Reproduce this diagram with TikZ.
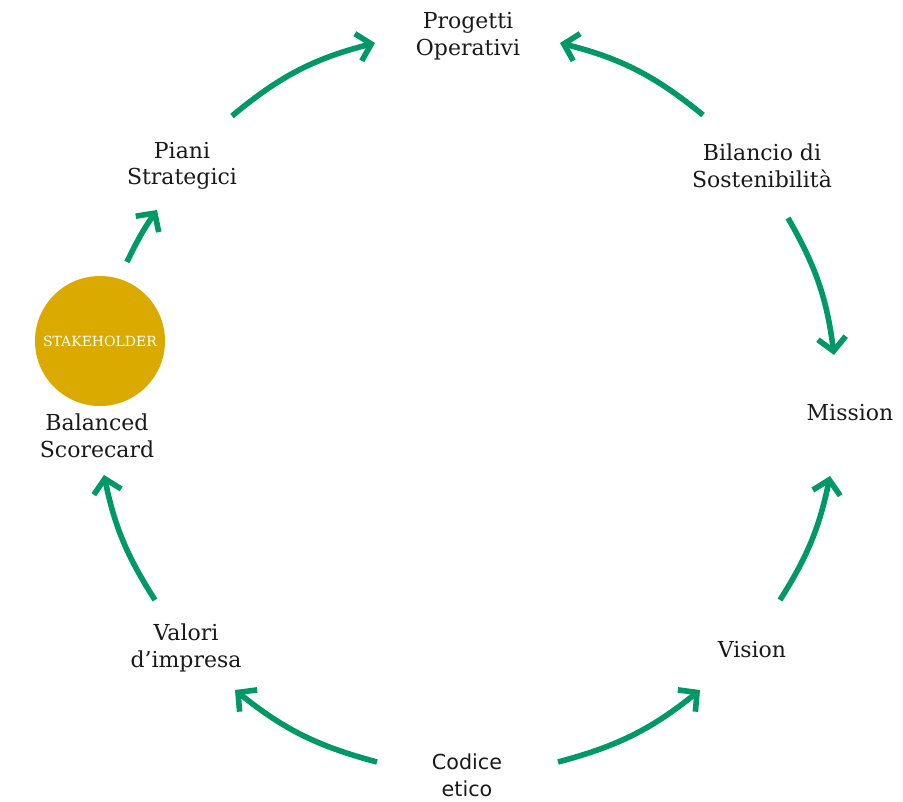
\documentclass[tikz,border=0pt]{standalone}
\usepackage{fontspec}
\setmainfont{DejaVu Serif}
\newfontfamily\sansf{DejaVu Sans}
\usetikzlibrary{arrows.meta}
\definecolor{arrowgreen}{RGB}{0,153,102}
\definecolor{gold}{RGB}{218,170,0}
\begin{document}
\begin{tikzpicture}[x=0.75pt,y=-0.75pt,
  lbl/.style={align=center, inner sep=0pt, font=\fontsize{16.5}{20}\selectfont, text=black!90},
  flow/.style={draw=arrowgreen, line width=4.2pt, -{Straight Barb[length=10pt,width=21pt]}},
  stakebox/.style={circle, fill=gold, minimum size=97.5pt, inner sep=0pt, text=white, font=\fontsize{10.5}{12}\selectfont}]
\useasboundingbox (0,0) rectangle (903,802);

\node[lbl] (prog) at (468,36) {Progetti\\Operativi};
\node[lbl] (bil) at (762,166) {Bilancio di\\Sostenibilità};
\node[lbl] (mis) at (850,413) {Mission};
\node[lbl] (vis) at (752,650) {Vision};
\node[lbl, font=\sansf\fontsize{15.5}{20}\selectfont] (cod) at (467,775) {Codice\\etico};
\node[lbl] (val) at (186,648) {Valori\\d’impresa};
\node[lbl] (bal) at (97,436) {Balanced\\Scorecard};
\node[lbl] (pia) at (182,166) {Piani\\Strategici};
\node[stakebox] (stake) at (100,341) {STAKEHOLDER};

\coordinate (a1s) at (232,116); \coordinate (a1e) at (375,43);
\coordinate (a2s) at (703,115); \coordinate (a2e) at (560,43);
\coordinate (a3s) at (788,218); \coordinate (a3e) at (834,355);
\coordinate (a4s) at (780,600); \coordinate (a4e) at (830,476);
\coordinate (a5s) at (558,762); \coordinate (a5e) at (700,690);
\coordinate (a6s) at (377,762); \coordinate (a6e) at (235,690);
\coordinate (a7s) at (155,600); \coordinate (a7e) at (104,475);
\coordinate (a8s) at (127,262); \coordinate (a8e) at (157,210);

\draw[flow] (a1s) to[bend left=12.7] (a1e);
\draw[flow] (a2s) to[bend right=12.5] (a2e);
\draw[flow] (a3s) to[bend left=11.3] (a3e);
\draw[flow] (a4s) to[bend right=10.3] (a4e);
\draw[flow] (a5s) to[bend right=12] (a5e);
\draw[flow] (a6s) to[bend left=12] (a6e);
\draw[flow] (a7s) to[bend left=10.4] (a7e);
\draw[flow] (a8s) to[bend left=4.7] (a8e);
\end{tikzpicture}
\end{document}
